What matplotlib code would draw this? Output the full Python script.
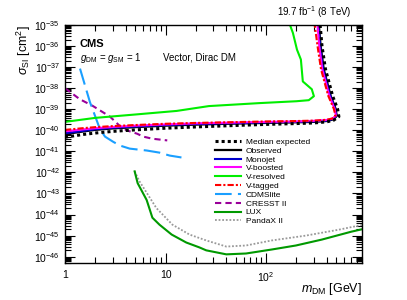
#!/usr/bin/env python3
import matplotlib
matplotlib.use("Agg")
import matplotlib.pyplot as plt
import numpy as np
from matplotlib.ticker import FixedLocator, FixedFormatter, LogLocator, NullFormatter

plt.rcParams["font.family"] = ["Liberation Sans", "DejaVu Sans"]
plt.rcParams["mathtext.fontset"] = "custom"
plt.rcParams["mathtext.rm"] = "Liberation Sans"
plt.rcParams["mathtext.it"] = "Liberation Sans:italic"
plt.rcParams["mathtext.bf"] = "Liberation Sans:bold"

# curves: mass in GeV, cross section as log10(sigma / cm^2)
EXP_X = [1, 1.5, 2, 3, 5, 10, 20, 50, 100, 200, 300, 400, 470, 530, 515, 460, 390, 360, 345, 342]
EXP_Y = [-40.33, -40.2, -40.13, -40.05, -39.98, -39.9, -39.84, -39.77, -39.72, -39.68,
         -39.65, -39.6, -39.52, -39.35, -39.0, -38.38, -37.1, -36.0, -35.0, -34.8]

OBS_X = [1, 1.5, 2, 3, 5, 10, 20, 50, 100, 200, 300, 400, 470, 504, 493, 440, 375, 349, 335, 332]
OBS_Y = [-40.18, -40.06, -39.98, -39.91, -39.85, -39.78, -39.73, -39.68, -39.65, -39.62,
         -39.6, -39.56, -39.48, -39.32, -38.99, -38.38, -37.11, -36.0, -35.0, -34.8]

MJ_X = [1, 1.5, 2, 3, 5, 10, 20, 50, 100, 200, 300, 400, 465, 500, 488, 435, 370, 345, 332, 329]
MJ_Y = [-40.14, -40.03, -39.95, -39.88, -39.82, -39.75, -39.7, -39.66, -39.63, -39.6,
        -39.58, -39.54, -39.46, -39.3, -38.98, -38.36, -37.1, -36.0, -35.0, -34.8]

VB_X = [1, 1.5, 2, 3, 5, 10, 20, 50, 100, 200, 300, 400, 460, 495, 480, 425, 362, 338, 325, 322]
VB_Y = [-40.05, -39.96, -39.9, -39.84, -39.78, -39.72, -39.67, -39.63, -39.6, -39.58,
        -39.55, -39.51, -39.44, -39.3, -38.98, -38.36, -37.1, -36.0, -35.0, -34.8]

VR_X = [1, 2, 5, 12.9, 27, 85, 200, 266, 299, 285, 232, 222, 203, 185, 173, 170]
VR_Y = [-39.6, -39.41, -39.25, -39.08, -38.85, -38.71, -38.62, -38.57, -38.38, -38.05,
        -37.68, -36.64, -36.17, -35.38, -35.0, -34.8]

VT_X = [1, 1.5, 2, 3, 5, 10, 20, 50, 100, 200, 300, 400, 455, 490, 472, 415, 352, 325, 305, 300]
VT_Y = [-39.98, -39.9, -39.85, -39.8, -39.75, -39.69, -39.65, -39.61, -39.58, -39.56,
        -39.54, -39.5, -39.44, -39.3, -38.98, -38.36, -37.1, -36.0, -35.0, -34.8]

CDMS_X = [1.41, 1.77, 2.22, 2.5, 3.0, 3.5, 4.4, 6.5, 8.7, 11, 14.4]
CDMS_Y = [-37.07, -38.66, -39.93, -40.3, -40.54, -40.72, -40.87, -40.96, -41.06, -41.2, -41.29]

CRESST_X = [1.0, 1.4, 1.9, 2.8, 3.5, 4.1, 5.2, 6.0, 7.4, 10.4]
CRESST_Y = [-38.0, -38.52, -38.85, -39.35, -39.79, -40.0, -40.16, -40.3, -40.4, -40.48]

LUX_X = [4.93, 5.28, 6.49, 7.4, 8.7, 11.5, 16.1, 21.7, 25.4, 40.2, 63.2, 114, 198, 358, 710, 1000]
LUX_Y = [-41.95, -42.51, -43.31, -44.15, -44.48, -44.95, -45.33, -45.56, -45.7, -45.89,
         -45.85, -45.66, -45.47, -45.19, -44.81, -44.65]

PX_X = [4.93, 5.5, 8.1, 11.7, 17.3, 25.4, 40.2, 63.2, 114, 249, 528, 1000]
PX_Y = [-41.95, -42.42, -43.69, -44.48, -44.95, -45.23, -45.52, -45.47, -45.23, -45.0, -44.72, -44.45]

X_TICKS = [1, 10, 100]
X_TICK_LABELS = ["1", "10", r"$10^{2}$"]
Y_DECADES = list(range(-46, -34))

CURVES = [
    ("Median expected", EXP_X, EXP_Y, dict(color="black", ls=(0, (1, 1)), lw=2.2)),
    ("Observed", OBS_X, OBS_Y, dict(color="black", ls="-", lw=1.6)),
    ("Monojet", MJ_X, MJ_Y, dict(color="#0000cc", ls="-", lw=1.5)),
    ("V-boosted", VB_X, VB_Y, dict(color="#ff00ff", ls="-", lw=1.5)),
    ("V-resolved", VR_X, VR_Y, dict(color="#00ee00", ls="-", lw=1.5)),
    ("V-tagged", VT_X, VT_Y, dict(color="#ff0000", ls=(0, (3, 1, 1, 1)), lw=1.5)),
    ("CDMSlite", CDMS_X, CDMS_Y, dict(color="#1a9fff", ls=(0, (8, 3)), lw=1.5)),
    ("CRESST II", CRESST_X, CRESST_Y, dict(color="#990099", ls=(0, (3, 2)), lw=1.5)),
    ("LUX", LUX_X, LUX_Y, dict(color="#009900", ls="-", lw=1.5)),
    ("PandaX II", PX_X, PX_Y, dict(color="#999999", ls=(0, (1, 1)), lw=1.3)),
]


def main():
    fig = plt.figure(figsize=(4.07, 3.0), dpi=100)
    ax = fig.add_axes([65 / 407, 1 - 263 / 300, 297 / 407, 238 / 300])

    # draw order: references first, CMS curves on top
    order = [9, 8, 7, 6, 4, 1, 2, 3, 5, 0]
    handles = {}
    for i in order:
        label, xs, ys, style = CURVES[i]
        (h,) = ax.plot(xs, 10.0 ** np.array(ys), label=label, **style)
        handles[label] = h

    ax.set_xscale("log")
    ax.set_yscale("log")
    ax.set_xlim(1, 900)
    ax.set_ylim(5e-47, 1e-35)

    ax.xaxis.set_major_locator(FixedLocator(X_TICKS))
    ax.xaxis.set_major_formatter(FixedFormatter(X_TICK_LABELS))
    ax.xaxis.set_minor_locator(LogLocator(base=10, subs=np.arange(2, 10)))
    ax.xaxis.set_minor_formatter(NullFormatter())
    ax.yaxis.set_major_locator(FixedLocator([10.0 ** d for d in Y_DECADES]))
    ax.yaxis.set_major_formatter(FixedFormatter([r"$10^{%d}$" % d for d in Y_DECADES]))
    ax.yaxis.set_minor_locator(LogLocator(base=10, subs=np.arange(2, 10), numticks=30))
    ax.yaxis.set_minor_formatter(NullFormatter())

    ax.tick_params(which="both", direction="in", top=True, right=True, labelsize=7.5, width=0.8)
    ax.tick_params(which="major", length=7)
    ax.tick_params(which="minor", length=4)
    ax.tick_params(axis="x", pad=5)
    for sp in ax.spines.values():
        sp.set_linewidth(1.0)

    ax.set_ylabel(r"$\sigma_{\mathrm{SI}}$ [cm$^{2}$]", fontsize=9, labelpad=2)
    ax.yaxis.set_label_coords(-0.108, 1.0)
    ax.yaxis.label.set_ha("right")
    ax.set_xlabel(r"$m_{\mathrm{DM}}$ [GeV]", fontsize=9, ha="right")
    ax.xaxis.set_label_coords(1.0, -0.075)

    ax.text(1.0 - 10 / 297, 1.02, r"19.7 fb$^{-1}$ (8 TeV)", transform=ax.transAxes,
            ha="right", va="bottom", fontsize=7)
    ax.text(15 / 297, 1 - 19 / 238, "CMS", transform=ax.transAxes, fontsize=8,
            fontweight="bold", va="center")
    ax.text(15 / 297, 1 - 33 / 238, r"$g_{\mathrm{DM}}$ = $g_{\mathrm{SM}}$ = 1",
            transform=ax.transAxes, fontsize=7, va="center")
    ax.text(98 / 297, 1 - 33 / 238, "Vector, Dirac DM", transform=ax.transAxes,
            fontsize=7, va="center")

    labels = [c[0] for c in CURVES]
    ax.legend([handles[l] for l in labels], labels, loc="upper left",
              bbox_to_anchor=(150 / 297, 1 - 113 / 238), frameon=False, fontsize=6,
              handlelength=3.1, handletextpad=0.6, labelspacing=0.12,
              borderpad=0, borderaxespad=0)

    fig.savefig("out.png", dpi=100)
    plt.close(fig)


if __name__ == "__main__":
    main()
